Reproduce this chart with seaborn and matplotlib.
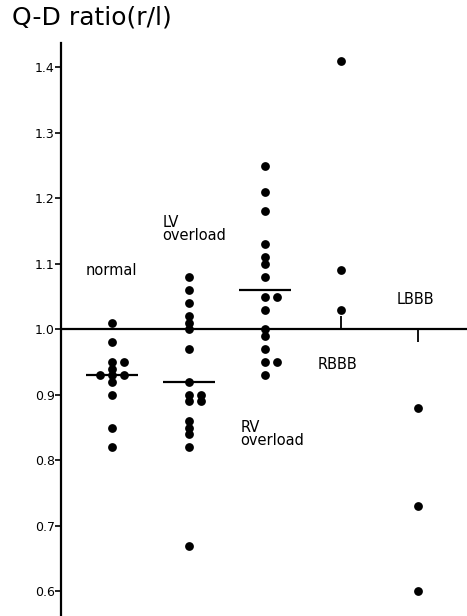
import numpy as np
import pandas as pd
import matplotlib
matplotlib.use("Agg")
import matplotlib.pyplot as plt
import seaborn as sns

# ---- data ----
groups = ["normal", "LV overload", "RV overload", "RBBB", "LBBB"]
normal_vals = [1.01, 0.98, 0.95, 0.95, 0.94, 0.93, 0.93, 0.93, 0.92, 0.90, 0.85, 0.82]
lv_vals = [1.08, 1.06, 1.04, 1.02, 1.01, 1.00, 0.97, 0.92, 0.90, 0.90, 0.89, 0.89,
           0.86, 0.85, 0.84, 0.82, 0.67]
rv_vals = [1.25, 1.21, 1.18, 1.13, 1.11, 1.10, 1.08, 1.05, 1.05, 1.03, 1.00, 0.99,
           0.97, 0.95, 0.95, 0.93]
rbbb_vals = [1.41, 1.09, 1.03]
lbbb_vals = [0.88, 0.73, 0.60]
group_means = [0.93, 0.92, 1.06, None, None]
stem_ends = [None, None, None, 1.02, 0.98]
yticks = [0.6, 0.7, 0.8, 0.9, 1.0, 1.1, 1.2, 1.3, 1.4]
ytick_labels = ["0.6", "0.7", "0.8", "0.9", "1.0", "1.1", "1.2", "1.3", "1.4"]
reference_value = 1.0
title = "Q-D ratio(r/l)"

# ---- build long table with side-by-side offsets for tied values ----
all_vals = [normal_vals, lv_vals, rv_vals, rbbb_vals, lbbb_vals]
rows = []
d = 0.16
for gi, vals in enumerate(all_vals):
    seen = {}
    for v in vals:
        k = seen.get(v, 0)
        seen[v] = k + 1
        off = [0, d, -d, 2 * d][k]
        rows.append({"group": groups[gi], "pos": gi + 1 + off, "value": v})
df = pd.DataFrame(rows)

sns.set_style("white")
plt.rcParams["font.family"] = ["DejaVu Sans"]

fig = plt.figure(figsize=(4.67, 6.16), dpi=100)
ax = fig.add_axes([61 / 467, 0.0, 1 - 61 / 467, (616 - 43) / 616])

sns.scatterplot(data=df, x="pos", y="value", ax=ax, color="black", s=40,
                edgecolor="black", linewidth=0, legend=False, zorder=3)

# mean bars
for gi, m in enumerate(group_means):
    if m is not None:
        ax.hlines(m, gi + 1 - 0.34, gi + 1 + 0.34, color="black", lw=1.6, zorder=2)

# reference line at 1.0
ax.axhline(reference_value, color="black", lw=1.6, zorder=1)

# small stems for RBBB / LBBB positions
for gi, e in enumerate(stem_ends):
    if e is not None:
        ax.vlines(gi + 1, reference_value, e, color="black", lw=1.3, zorder=1)

ax.set_xlim(0.33, 5.645)
ax.set_ylim(0.5626, 1.437)
ax.set_yticks(yticks)
ax.set_yticklabels(ytick_labels)
ax.set_xticks([])
ax.set_xlabel("")
ax.set_ylabel("")
for s in ["top", "right", "bottom"]:
    ax.spines[s].set_visible(False)
ax.spines["left"].set_linewidth(1.6)
ax.spines["left"].set_color("black")
ax.tick_params(axis="y", direction="out", length=4, width=1.2, pad=0.5,
               labelsize=9, colors="black", left=True)

# group labels
lab_kw = dict(fontsize=10.5, color="black", ha="left")
ax.text(0.65, 1.09, "normal", va="center", **lab_kw)
ax.text(1.66, 1.175, "LV\noverload", va="top", linespacing=0.85, **lab_kw)
ax.text(2.68, 0.862, "RV\noverload", va="top", linespacing=0.85, **lab_kw)
ax.text(3.69, 0.947, "RBBB", va="center", **lab_kw)
ax.text(4.72, 1.045, "LBBB", va="center", **lab_kw)

fig.text(12 / 467, 1 - 25 / 616, title, fontsize=18, ha="left", va="baseline",
         color="black")

fig.savefig("out.png", dpi=100)
